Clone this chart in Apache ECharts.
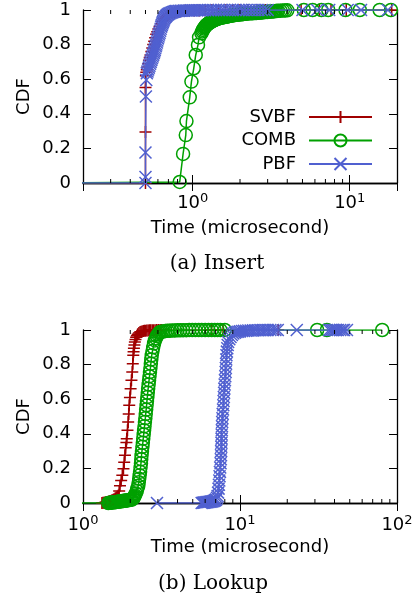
<!DOCTYPE html>
<html><head><meta charset="utf-8">
<script src="https://cdn.jsdelivr.net/npm/echarts@6/dist/echarts.min.js"></script>
<style>html,body{margin:0;padding:0;background:#fff}#c{width:419px;height:601px}</style>
</head><body><div id="c"></div>
<script>
// ---------- data (time in microseconds, CDF) ----------
const seriesNames = ['SVBF', 'COMB', 'PBF'];

const insertSVBF = [[0.15,0],[0.500,0],[0.500,0.295],[0.500,0.552],[0.503,0.62],[0.506,0.64],[0.510,0.655],[0.515,0.67],[0.520,0.69],[0.526,0.71],[0.532,0.725],[0.538,0.74],[0.545,0.76],[0.552,0.78],[0.560,0.80],[0.568,0.82],[0.576,0.84],[0.585,0.86],[0.594,0.875],[0.604,0.89],[0.615,0.905],[0.627,0.92],[0.640,0.935],[0.655,0.948],[0.672,0.96],[0.690,0.97],[0.712,0.978],[0.738,0.984],[0.768,0.988],[0.80,0.991],[0.84,0.993],[0.89,0.995],[0.95,0.996],[1.02,0.997],[1.10,0.9975],[1.20,0.998],[1.32,0.9985],[1.46,0.999],[1.62,0.999],[1.80,0.9993],[2.0,0.9995],[2.25,0.9996],[2.55,0.9997],[2.9,0.9998],[3.3,0.9999],[4.9,1],[6.4,1],[7.6,1],[9.5,1],[18.5,1]];

const insertCOMB = [[0.15,0],[0.826,0.006],[0.868,0.168],[0.903,0.277],[0.912,0.358],[0.957,0.495],[0.981,0.586],[1.015,0.663],[1.045,0.74],[1.08,0.798],[1.097,0.842],[1.136,0.865],[1.15,0.876],[1.16,0.885],[1.175,0.893],[1.19,0.9],[1.2,0.904],[1.21,0.908],[1.22,0.912],[1.23,0.915],[1.245,0.918],[1.255,0.921],[1.27,0.924],[1.28,0.927],[1.295,0.93],[1.31,0.932],[1.325,0.935],[1.34,0.937],[1.36,0.94],[1.375,0.942],[1.39,0.944],[1.41,0.946],[1.43,0.948],[1.445,0.95],[1.46,0.952],[1.48,0.953],[1.50,0.955],[1.52,0.956],[1.54,0.957],[1.56,0.958],[1.58,0.959],[1.60,0.96],[1.62,0.961],[1.64,0.962],[1.66,0.963],[1.68,0.964],[1.70,0.965],[1.72,0.966],[1.745,0.967],[1.77,0.968],[1.795,0.969],[1.82,0.97],[1.86,0.971],[1.9,0.972],[1.95,0.973],[1.99,0.974],[2.03,0.975],[2.07,0.976],[2.11,0.977],[2.15,0.978],[2.2,0.979],[2.25,0.98],[2.3,0.9805],[2.35,0.981],[2.4,0.9815],[2.45,0.982],[2.5,0.9825],[2.55,0.983],[2.6,0.984],[2.65,0.985],[2.7,0.9855],[2.75,0.986],[2.81,0.987],[2.87,0.988],[2.93,0.9885],[3.0,0.989],[3.06,0.99],[3.12,0.991],[3.18,0.9915],[3.25,0.992],[3.31,0.993],[3.38,0.994],[3.44,0.9945],[3.5,0.995],[3.62,0.996],[3.75,0.997],[3.87,0.9975],[4.0,0.998],[5.1,1],[5.8,1],[6.6,1],[7.3,1],[9.4,1],[11.6,1],[15.5,1],[18.3,1]];

const insertPBF = [[0.15,0],[0.500,0],[0.500,0.035],[0.500,0.176],[0.503,0.50],[0.506,0.595],[0.51,0.634],[0.515,0.645],[0.52,0.656],[0.525,0.667],[0.53,0.678],[0.535,0.689],[0.54,0.70],[0.545,0.711],[0.55,0.721],[0.555,0.731],[0.56,0.741],[0.565,0.751],[0.569,0.76],[0.573,0.769],[0.577,0.779],[0.582,0.79],[0.586,0.801],[0.591,0.812],[0.595,0.824],[0.60,0.836],[0.605,0.847],[0.61,0.858],[0.615,0.869],[0.62,0.88],[0.625,0.892],[0.63,0.904],[0.635,0.913],[0.64,0.922],[0.645,0.93],[0.65,0.938],[0.655,0.945],[0.66,0.952],[0.667,0.958],[0.675,0.963],[0.682,0.968],[0.69,0.972],[0.70,0.976],[0.71,0.98],[0.722,0.983],[0.735,0.986],[0.748,0.988],[0.76,0.99],[0.772,0.992],[0.785,0.994],[0.80,0.9945],[0.82,0.995],[0.84,0.9955],[0.86,0.996],[0.88,0.9965],[0.90,0.997],[0.925,0.9972],[0.95,0.9975],[0.975,0.9978],[1.0,0.998],[1.03,0.9982],[1.06,0.9985],[1.09,0.9987],[1.12,0.999],[1.16,0.999],[1.2,0.999],[1.25,0.9992],[1.3,0.9993],[1.35,0.9994],[1.4,0.9995],[1.46,0.9995],[1.52,0.9996],[1.58,0.9996],[1.65,0.9997],[1.72,0.9997],[1.8,0.9997],[1.87,0.9998],[1.95,0.9998],[2.03,0.9998],[2.1,0.9998],[2.2,0.9999],[2.3,0.9999],[2.4,0.9999],[2.5,0.9999],[2.62,0.9999],[2.75,0.9999],[2.87,1],[3.0,1],[5.0,1],[6.2,1],[7.4,1],[9.7,1],[11.8,1],[17.5,1]];

const lookupSVBF = [[1.32,0],[1.34,0.001],[1.36,0.002],[1.38,0.003],[1.40,0.004],[1.42,0.005],[1.44,0.006],[1.46,0.008],[1.48,0.01],[1.50,0.012],[1.52,0.014],[1.54,0.016],[1.56,0.019],[1.58,0.022],[1.605,0.027],[1.63,0.032],[1.655,0.038],[1.68,0.044],[1.70,0.07],[1.72,0.10],[1.75,0.13],[1.78,0.16],[1.81,0.198],[1.83,0.236],[1.85,0.276],[1.87,0.32],[1.89,0.35],[1.90,0.372],[1.92,0.42],[1.94,0.468],[1.955,0.515],[1.97,0.565],[1.99,0.61],[2.01,0.661],[2.035,0.71],[2.06,0.757],[2.075,0.805],[2.09,0.854],[2.10,0.875],[2.11,0.895],[2.125,0.913],[2.14,0.931],[2.16,0.945],[2.18,0.958],[2.205,0.967],[2.23,0.975],[2.27,0.982],[2.31,0.988],[2.345,0.99],[2.38,0.992],[2.42,0.9935],[2.46,0.995],[2.5,0.996],[2.55,0.997],[2.6,0.9975],[2.65,0.998],[2.7,0.9982],[2.76,0.9985],[2.82,0.9988],[2.88,0.999],[2.95,0.9993],[3.02,0.9995],[3.1,0.9997],[3.17,1],[6.6,1],[7.8,1],[17.5,1]];

const lookupCOMB = [[0.9,0],[1.45,0],[1.48,0.001],[1.51,0.002],[1.54,0.003],[1.57,0.004],[1.60,0.005],[1.63,0.006],[1.66,0.007],[1.69,0.008],[1.72,0.009],[1.75,0.01],[1.78,0.011],[1.81,0.012],[1.84,0.013],[1.87,0.014],[1.90,0.015],[1.93,0.016],[1.96,0.017],[1.99,0.018],[2.02,0.019],[2.05,0.02],[2.08,0.025],[2.10,0.03],[2.12,0.037],[2.14,0.044],[2.17,0.055],[2.20,0.07],[2.22,0.085],[2.25,0.10],[2.265,0.12],[2.28,0.14],[2.295,0.16],[2.31,0.18],[2.325,0.205],[2.34,0.23],[2.35,0.253],[2.36,0.276],[2.375,0.30],[2.39,0.325],[2.405,0.348],[2.42,0.372],[2.435,0.396],[2.45,0.42],[2.465,0.444],[2.48,0.468],[2.495,0.49],[2.51,0.515],[2.525,0.54],[2.54,0.565],[2.555,0.59],[2.57,0.613],[2.585,0.637],[2.60,0.661],[2.618,0.685],[2.635,0.71],[2.652,0.733],[2.67,0.757],[2.688,0.78],[2.705,0.805],[2.722,0.83],[2.74,0.854],[2.77,0.878],[2.80,0.90],[2.835,0.922],[2.87,0.94],[2.91,0.953],[2.95,0.965],[3.0,0.975],[3.05,0.982],[3.09,0.988],[3.17,0.99],[3.25,0.992],[3.35,0.994],[3.45,0.995],[3.57,0.996],[3.7,0.997],[3.85,0.9975],[4.0,0.998],[4.17,0.9985],[4.35,0.999],[4.55,0.9991],[4.75,0.9993],[4.97,0.9994],[5.2,0.9995],[5.45,0.9996],[5.7,0.9997],[6.0,0.9997],[6.3,0.9998],[6.6,0.9998],[6.9,0.9999],[7.2,0.9999],[7.5,1],[8.0,1],[31,1],[35.8,1],[80.5,1]];

const lookupPBF = [[2.96,0],[5.7,0],[5.8,0.001],[5.9,0.002],[6.0,0.003],[6.1,0.004],[6.2,0.005],[6.3,0.006],[6.4,0.007],[6.5,0.008],[6.6,0.009],[6.7,0.01],[6.8,0.012],[6.9,0.014],[6.98,0.017],[7.05,0.02],[7.13,0.03],[7.2,0.04],[7.25,0.06],[7.3,0.083],[7.34,0.105],[7.38,0.13],[7.41,0.155],[7.45,0.18],[7.48,0.205],[7.52,0.23],[7.545,0.253],[7.57,0.276],[7.585,0.30],[7.60,0.325],[7.615,0.348],[7.63,0.372],[7.645,0.396],[7.66,0.42],[7.68,0.444],[7.70,0.468],[7.73,0.49],[7.76,0.515],[7.795,0.54],[7.83,0.565],[7.86,0.59],[7.89,0.613],[7.92,0.637],[7.95,0.661],[7.985,0.685],[8.02,0.71],[8.06,0.733],[8.10,0.757],[8.125,0.78],[8.15,0.805],[8.175,0.83],[8.20,0.854],[8.25,0.875],[8.30,0.895],[8.35,0.913],[8.40,0.931],[8.55,0.947],[8.7,0.96],[8.88,0.971],[9.06,0.98],[9.28,0.985],[9.5,0.988],[9.75,0.99],[10.0,0.992],[10.3,0.994],[10.6,0.995],[10.95,0.996],[11.3,0.997],[11.7,0.9975],[12.1,0.998],[12.55,0.9985],[13.0,0.999],[13.5,0.9992],[14.0,0.9993],[14.5,0.9994],[15.0,0.9995],[15.6,0.9996],[16.2,0.9997],[16.8,0.9998],[17.4,1],[23.0,1],[37,1],[38,1],[39,1],[40,1],[41,1],[42,1],[43.5,1],[45,1],[46,1],[48,1]];

const insertXRange = [0.2, 20];
const lookupXRange = [1, 100];
const cdfRange = [0, 1];
const cdfStep = 0.2;
const insertMinorTicks = [0.3,0.4,0.5,0.6,0.7,0.8,0.9,2,3,4,5,6,7,8,9];
const lookupMinorTicks = [2,3,4,5,6,7,8,9,20,30,40,50,60,70,80,90];
const xTitle = 'Time (microsecond)';
const yTitle = 'CDF';
const captions = ['(a) Insert', '(b) Lookup'];

// ---------- styling ----------
const COLORS = ['#a00000', '#00a000', '#5060d0'];
const SYMBOLS = ['path://M0,5L10,5M5,0L5,10', 'circle', 'path://M0,0L10,10M10,0L0,10'];
const SYMBOL_SIZES = [12, 13, 12];
const SANS = 'DejaVu Sans';
const SERIF = 'DejaVu Serif';

const grids = [
  {left: 83, top: 10, width: 314, height: 173},
  {left: 83, top: 330, width: 314, height: 173}
];

function powLabel(v) {
  const e = Math.log10(v);
  const r = Math.round(e);
  if (Math.abs(e - r) > 1e-6) return '';
  return '{b|10}{s|' + r + '}';
}
const richPow = {
  b: {fontSize: 18, fontFamily: SANS, color: '#000', lineHeight: 20, verticalAlign: 'bottom'},
  s: {fontSize: 13, fontFamily: SANS, color: '#000', lineHeight: 12, verticalAlign: 'top', padding: [0, 0, 14, 0]}
};

function xAxes(gi, range, labelMargin) {
  const common = {
    type: 'log', logBase: 10, gridIndex: gi, min: range[0], max: range[1],
    splitLine: {show: false},
    axisLine: {show: true, lineStyle: {color: '#000', width: 1.3}},
    axisTick: {show: true, inside: true, length: 8, lineStyle: {color: '#000', width: 1}}
  };
  return [
    Object.assign({}, common, {position: 'bottom',
      axisLabel: {show: true, margin: labelMargin, formatter: powLabel, rich: richPow, showMinLabel: true, showMaxLabel: true}}),
    Object.assign({}, common, {position: 'top', axisLabel: {show: false}})
  ];
}
function yAxes(gi) {
  const common = {
    type: 'value', gridIndex: gi, min: cdfRange[0], max: cdfRange[1], interval: cdfStep,
    splitLine: {show: false},
    axisLine: {show: true, lineStyle: {color: '#000', width: 1.3}},
    axisTick: {show: true, inside: true, length: 8, lineStyle: {color: '#000', width: 1}}
  };
  return [
    Object.assign({}, common, {position: 'left',
      axisLabel: {show: true, margin: 12, fontSize: 18, fontFamily: SANS, color: '#000'}}),
    Object.assign({}, common, {position: 'right', axisLabel: {show: false}})
  ];
}

function lineSeries(name, idx, data, axisIdx) {
  const isCircle = SYMBOLS[idx] === 'circle';
  return {
    type: 'line', name: name, data: data,
    xAxisIndex: axisIdx, yAxisIndex: axisIdx,
    symbol: SYMBOLS[idx], symbolSize: SYMBOL_SIZES[idx], showSymbol: true, showAllSymbol: true,
    clip: true, z: 3 + idx,
    lineStyle: {color: COLORS[idx], width: 1.5},
    itemStyle: {color: isCircle ? 'rgba(255,255,255,0)' : COLORS[idx], borderColor: COLORS[idx], borderWidth: 1.5},
    emphasis: {disabled: true},
    animation: false
  };
}

function minorTickSeries(values, axisIdx) {
  return {
    type: 'custom', xAxisIndex: axisIdx, yAxisIndex: axisIdx, silent: true, z: 10,
    data: values.map(v => [v]),
    renderItem: function (params, api) {
      const v = api.value(0);
      const p0 = api.coord([v, cdfRange[0]]);
      const p1 = api.coord([v, cdfRange[1]]);
      const st = {stroke: '#000', lineWidth: 1};
      return {type: 'group', children: [
        {type: 'line', shape: {x1: p0[0], y1: p0[1], x2: p0[0], y2: p0[1] - 4}, style: st},
        {type: 'line', shape: {x1: p1[0], y1: p1[1], x2: p1[0], y2: p1[1] + 4}, style: st}
      ]};
    },
    animation: false
  };
}

const insertData = [insertSVBF, insertCOMB, insertPBF];
const lookupData = [lookupSVBF, lookupCOMB, lookupPBF];

const series = [];
seriesNames.forEach((n, i) => series.push(lineSeries(n, i, insertData[i], 0)));
seriesNames.forEach((n, i) => series.push(lineSeries(n, i, lookupData[i], 2)));
series.push(minorTickSeries(insertMinorTicks, 0));
series.push(minorTickSeries(lookupMinorTicks, 2));

function txt(text, x, y, font, size, rot) {
  return {type: 'text', x: x, y: y, rotation: rot || 0, silent: true,
    style: {text: text, fontFamily: font, fontSize: size, fill: '#000', align: 'center', verticalAlign: 'middle'}};
}

const option = {
  animation: false,
  backgroundColor: '#fff',
  grid: grids,
  xAxis: xAxes(0, insertXRange, 9).concat(xAxes(1, lookupXRange, 11)),
  yAxis: yAxes(0).concat(yAxes(1)),
  legend: {
    data: seriesNames, orient: 'vertical', align: 'right',
    right: 46, top: 108, padding: 0, itemGap: 5.5,
    itemWidth: 63, itemHeight: 15,
    selectedMode: false,
    textStyle: {fontSize: 18, fontFamily: SANS, color: '#000', lineHeight: 18, padding: [0, 8, 0, 0]}
  },
  series: series,
  graphic: [
    txt(yTitle, 24.5, 96.5, SANS, 18, Math.PI / 2),
    txt(yTitle, 24.5, 416.5, SANS, 18, Math.PI / 2),
    txt(xTitle, 240, 228, SANS, 18),
    txt(xTitle, 240, 547, SANS, 18),
    txt(captions[0], 217, 264, SERIF, 20),
    txt(captions[1], 213, 584, SERIF, 20)
  ]
};

const chart = echarts.init(document.getElementById('c'), null, {renderer: 'canvas'});
chart.setOption(option);
</script></body></html>
